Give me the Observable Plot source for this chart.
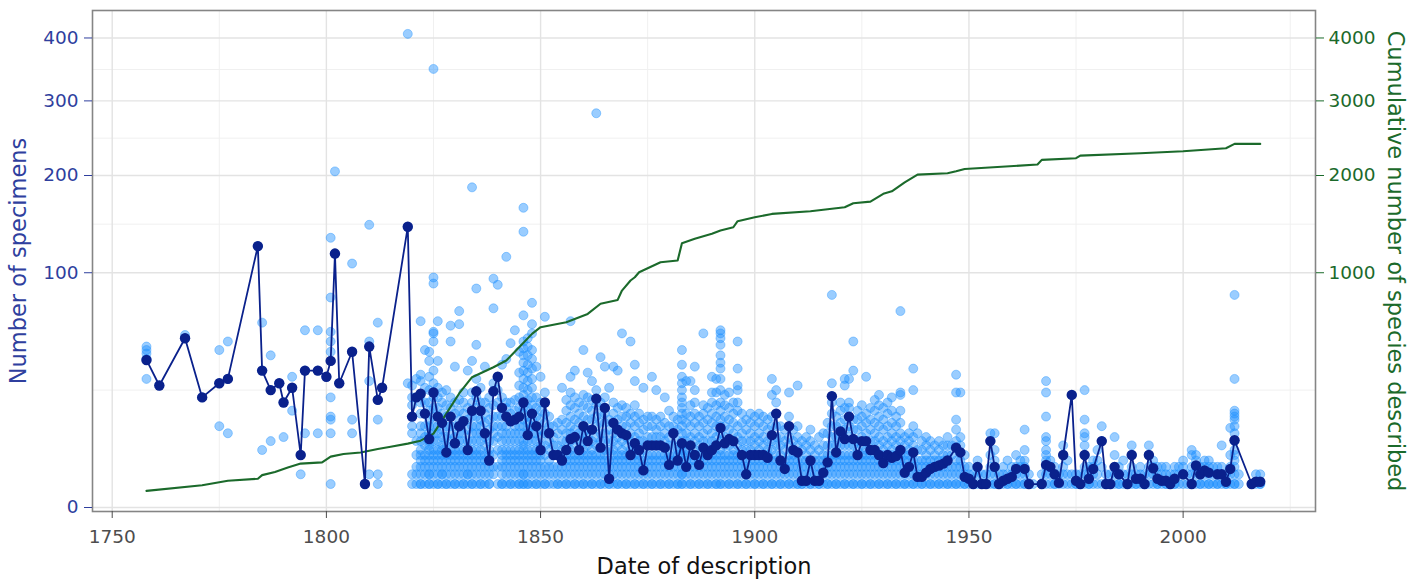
<!DOCTYPE html>
<html>
<head>
<meta charset="utf-8">
<script src="https://cdn.jsdelivr.net/npm/d3@7"></script>
<script src="https://cdn.jsdelivr.net/npm/@observablehq/plot@0.6"></script>
<style>
  html, body { margin: 0; padding: 0; background: #ffffff; }
  svg { display: block; }
</style>
</head>
<body>
<div id="chart"></div>
<script>
// ---- tick values ----
const xTicks = [1750, 1800, 1850, 1900, 1950, 2000];
const xMinorTicks = [1775, 1825, 1875, 1925, 1975, 2025];
const yTicks = [0, 100, 200, 300, 400];
const yMinorTicks = [25, 145.7, 247.5, 348.2];
const rightTicks = [1000, 2000, 3000, 4000];

// ---- specimens per species, grouped by year of description ----
const specimensByYear = [
  [1758, [30, 40, 43, 45, 47]],
  [1761, [27]],
  [1767, [52, 54]],
  [1771, [22]],
  [1775, [12, 28, 45]],
  [1777, [10, 30, 50]],
  [1784, [124]],
  [1785, [6, 34, 62]],
  [1787, [8, 25, 42]],
  [1789, [28]],
  [1790, [9, 20]],
  [1792, [17, 26, 31]],
  [1794, [2, 5]],
  [1795, [10, 34, 57]],
  [1798, [10, 34, 57]],
  [1800, [31]],
  [1801, [1, 10, 14, 15, 22, 39, 44, 50, 56, 80, 132]],
  [1802, [117, 205]],
  [1803, [28]],
  [1806, [10, 14, 44, 108]],
  [1809, [1]],
  [1810, [2, 29, 47, 50, 145]],
  [1812, [1, 2, 14, 21, 62]],
  [1813, [26]],
  [1819, [28, 143, 407]],
  [1820, [1, 2, 10, 12, 15, 19, 22, 27]],
  [1821, [1, 2, 3, 5, 8, 22, 30]],
  [1822, [1, 1, 2, 3, 4, 5, 6, 8, 10, 12, 16, 20, 23, 29, 32, 63]],
  [1823, [1, 2, 3, 4, 5, 7, 9, 12, 16, 20, 26, 45]],
  [1824, [1, 1, 2, 2, 3, 4, 5, 6, 7, 8, 9, 10, 12, 14, 17, 20, 25, 31, 39, 44]],
  [1825, [1, 2, 3, 4, 5, 6, 8, 10, 12, 15, 18, 22, 24, 28, 34, 50, 55, 56, 91, 96, 349]],
  [1826, [1, 1, 2, 3, 4, 5, 6, 8, 10, 12, 15, 18, 22, 26, 39, 63]],
  [1827, [1, 2, 2, 3, 4, 5, 6, 7, 9, 11, 13, 16, 20, 24]],
  [1828, [1, 1, 2, 3, 4, 5, 5.5, 7, 9, 12, 15, 19, 25]],
  [1829, [1, 2, 3, 4, 5, 6, 8, 10, 12, 15, 18, 22, 50, 60]],
  [1830, [1, 1, 2, 3, 4, 5, 6, 7.5, 9, 12, 16, 20, 36]],
  [1831, [1, 2, 3, 4, 5, 6, 8, 10, 12, 14, 17, 21, 61, 70]],
  [1832, [1, 1, 2, 3, 4, 5, 6, 8, 10, 13.5, 16, 20, 24]],
  [1833, [1, 2, 2, 3, 4, 5, 6, 8, 11, 14, 18, 34]],
  [1834, [1, 1, 2, 3, 4, 5, 6, 8, 10, 12, 15, 17, 20, 24, 39, 186]],
  [1835, [1, 2, 3, 4, 5, 6, 8, 10, 12, 15, 18, 22, 24.5, 30, 48, 87]],
  [1836, [1, 1, 2, 3, 4, 5, 6, 8, 10, 12, 14, 17, 20, 26]],
  [1837, [1, 2, 3, 4, 5, 7, 9, 10, 13, 16, 20, 36]],
  [1838, [1, 1, 2, 3, 4, 5, 6, 8, 11, 14, 18, 22]],
  [1839, [2, 3, 5, 8, 10, 12, 15, 19, 24.5, 28, 72, 95]],
  [1840, [1, 3, 6, 9, 12, 15, 20, 25, 31, 90]],
  [1841, [1, 1, 2, 3, 4, 5, 6, 8, 10, 12, 15, 18, 22, 37]],
  [1842, [1, 2, 3, 4, 5, 6, 8, 10, 12, 15, 18, 20, 40, 114]],
  [1843, [1, 1, 2, 3, 4, 5, 6, 8, 10, 13.5, 16, 20, 49]],
  [1844, [1, 2, 3, 4, 5, 6, 8, 10, 12, 14, 17, 21, 57]],
  [1845, [1, 1, 2, 3, 4, 5, 6, 8, 10, 12, 15, 18, 22, 27, 33, 44]],
  [1846, [1, 1, 2, 2, 3, 4, 5, 6, 7, 8, 10, 12, 14, 16, 18, 20, 23, 26, 30, 34, 38, 42, 46, 50, 67, 138, 163]],
  [1847, [1, 1, 2, 3, 4, 5, 6, 8, 9.5, 11, 13, 15, 18, 21, 25, 29, 33, 37, 42, 47, 52]],
  [1848, [1, 2, 3, 4, 5, 6, 8, 10, 12, 14, 16, 19, 22, 26, 30, 35, 40, 45, 55, 61, 76]],
  [1849, [1, 1, 2, 3, 4, 5, 6, 8, 10, 12, 15, 18, 22, 36]],
  [1850, [1, 2, 3, 4, 5, 6, 7, 9, 11, 14, 17, 20, 31]],
  [1851, [1, 1, 2, 3, 5, 7, 10, 13, 16, 20, 24, 66]],
  [1852, [1, 2, 3, 4, 6, 8, 10, 12, 15]],
  [1853, [1, 2, 3, 5, 7, 9, 12]],
  [1854, [1, 1, 2, 3, 5, 7, 10, 13]],
  [1855, [1, 2, 3, 4, 6, 8, 11, 14, 26]],
  [1856, [1, 1, 2, 3, 4, 5, 6, 8, 10, 13, 17, 21]],
  [1857, [1, 2, 3, 4, 5, 6, 8, 10, 12, 15, 19, 24, 31, 63]],
  [1858, [1, 1, 2, 3, 4, 5, 7, 9, 11, 14, 18, 22, 34]],
  [1859, [1, 2, 3, 4, 5, 6, 8, 10, 13, 16, 20]],
  [1860, [1, 1, 2, 3, 4, 5, 6, 8, 10, 12, 15, 19, 23, 45]],
  [1861, [1, 2, 3, 4, 5, 7, 9, 11, 14, 18, 22, 33]],
  [1862, [1, 1, 2, 3, 4, 5, 6, 8, 11, 14, 17, 21, 29]],
  [1863, [1, 2, 3, 4, 5, 7, 9, 12, 15, 19, 21.5, 25, 282]],
  [1864, [1, 1, 2, 3, 4, 5, 6.5, 8, 10, 13, 16, 20, 41]],
  [1865, [1, 2, 3, 4, 5, 6, 8, 10, 13, 16, 18, 22, 36]],
  [1866, [1, 1, 2, 3, 4, 6, 8, 11, 14, 26]],
  [1867, [1, 2, 3, 4, 5, 6, 8, 10, 13, 16, 20, 36]],
  [1868, [1, 1, 2, 3, 4, 5, 7, 9, 11, 14, 18, 34]],
  [1869, [1, 2, 3, 4, 5, 6, 8, 10, 12, 15, 19, 55]],
  [1870, [1, 1, 2, 3, 4, 5, 7, 9, 12, 15, 18]],
  [1871, [1, 2, 3, 4, 5, 6, 8, 10, 13, 16, 50]],
  [1872, [1, 1, 2, 3, 4, 5, 6, 7.5, 9, 12, 15, 19, 29, 37]],
  [1873, [1, 2, 3, 4, 5, 6, 8, 10, 13, 16]],
  [1874, [1, 1, 2, 3, 4, 6, 8, 11, 14, 26]],
  [1875, [1, 2, 3, 4, 5, 7, 9, 12, 15]],
  [1876, [1, 1, 2, 3, 4, 5, 7, 9, 12, 15, 31]],
  [1877, [1, 2, 3, 4, 5, 7, 9, 11, 14, 25]],
  [1878, [1, 1, 2, 3, 4, 5, 7, 9, 12, 15]],
  [1879, [1, 2, 3, 4, 5, 6.5, 8, 10, 13, 22]],
  [1880, [1, 1, 2, 3, 4, 5, 7, 9, 12, 17]],
  [1881, [1, 2, 3, 4, 5, 7, 10, 12, 15]],
  [1882, [1, 1, 2, 3, 4, 5, 6, 8, 11, 14]],
  [1883, [1, 1, 2, 2, 3, 4, 5, 6, 7, 8, 10, 12, 14, 16, 18, 20, 22, 25, 28, 31, 37, 45]],
  [1884, [1, 2, 3, 4, 5, 6, 8, 10, 13, 16, 29]],
  [1885, [1, 1, 2, 3, 4, 5, 7, 9, 12, 15, 19, 29]],
  [1886, [1, 2, 3, 4, 5, 6, 8, 10, 13, 16, 20, 25, 36]],
  [1887, [1, 1, 2, 3, 4, 5, 7, 9, 12, 15]],
  [1888, [1, 2, 3, 4, 5, 6.5, 8, 10, 13, 16, 19, 55]],
  [1889, [1, 1, 2, 3, 4, 5, 6, 8, 11, 14, 18]],
  [1890, [1, 2, 3, 4, 5, 6, 8, 10, 13, 16, 20, 24, 31]],
  [1891, [1, 1, 2, 3, 4, 5, 7, 9, 12, 15, 19, 24, 30]],
  [1892, [1, 1, 2, 3, 4, 5, 6, 8, 10, 12, 14, 17, 20, 25, 30, 35, 38, 42, 48, 52, 55, 57]],
  [1893, [1, 2, 3, 4, 5, 7, 9, 12, 15, 19, 23]],
  [1894, [1, 1, 2, 3, 4, 5, 7, 8.5, 11, 14, 18, 24]],
  [1895, [1, 2, 3, 4, 5, 6, 8, 10, 13, 16, 20]],
  [1896, [1, 1, 2, 3, 4, 5, 7, 9, 12, 17, 20, 25, 27, 35, 50]],
  [1897, [1, 2, 3, 4, 5, 6, 8, 10, 13, 16]],
  [1898, [1, 1, 2, 3, 4, 6, 8, 11, 14]],
  [1899, [1, 2, 3, 4, 5, 6, 8, 10, 13, 16]],
  [1900, [1, 1, 2, 3, 4, 5, 7, 9, 12, 15]],
  [1901, [1, 2, 3, 4, 5, 6, 8, 10, 13, 16]],
  [1902, [1, 1, 2, 3, 4, 5, 7, 9, 12, 15]],
  [1903, [1, 2, 3, 4, 5, 6, 8, 11, 14]],
  [1904, [1, 1, 2, 3, 4, 6, 8, 9.5, 12, 15, 23, 30]],
  [1905, [1, 2, 3, 4, 5, 7, 9, 12, 16, 20, 25]],
  [1906, [1, 1, 2, 3, 4, 5, 7, 9, 12]],
  [1907, [1, 2, 3, 4, 6, 8, 11]],
  [1908, [1, 1, 2, 3, 4, 5, 7, 9, 12, 15, 24]],
  [1909, [1, 2, 3, 4, 5, 6, 8, 11]],
  [1910, [1, 1, 2, 3, 4, 5.5, 7, 9, 12, 27]],
  [1911, [1, 1, 2, 3, 4, 6, 8]],
  [1912, [1, 2, 3, 4, 5, 7, 9]],
  [1913, [1, 1, 2, 3, 4, 6, 8, 11]],
  [1914, [1, 2, 3, 4, 5, 7]],
  [1915, [1, 1, 2, 3, 4, 6, 9]],
  [1916, [1, 2, 3, 4, 5, 7, 10]],
  [1917, [1, 1, 2, 3, 4, 5, 7, 10, 13]],
  [1918, [1, 2, 3, 4, 5, 7, 9, 12, 16, 20, 22.5, 28, 82]],
  [1919, [1, 1, 2, 3, 4, 5, 7, 9, 12, 15]],
  [1920, [1, 2, 3, 4, 5, 7, 9, 10.5, 13, 17, 20]],
  [1921, [1, 1, 2, 3, 4, 5, 7, 8.5, 11, 14, 18, 27, 30]],
  [1922, [1, 2, 3, 4, 5, 7, 9, 12, 15, 18, 20, 30]],
  [1923, [1, 1, 2, 3, 4, 5, 7, 8.5, 11, 14, 34, 50]],
  [1924, [1, 2, 3, 4, 5, 6, 8, 11, 14, 17]],
  [1925, [1, 1, 2, 3, 4, 5, 7, 9, 12, 15, 19]],
  [1926, [1, 2, 3, 4, 5, 6, 8, 10, 13, 16, 31]],
  [1927, [1, 1, 2, 3, 4, 5, 6, 8, 11, 14, 18]],
  [1928, [1, 2, 3, 4, 5, 6, 8, 10, 13, 17, 21]],
  [1929, [1, 1, 2, 3, 4, 5, 7, 9, 12, 15, 19, 23]],
  [1930, [1, 2, 3, 4, 5, 6, 8, 11, 14, 18]],
  [1931, [1, 1, 2, 3, 4, 5, 7, 9, 12, 16, 20]],
  [1932, [1, 2, 3, 4, 5, 6, 8, 10, 13, 17, 22]],
  [1933, [1, 1, 2, 3, 4, 5, 7, 9, 12, 15]],
  [1934, [1, 2, 3, 4, 5, 6, 8, 10, 13, 17, 23, 24, 70]],
  [1935, [1, 1, 2, 3, 4, 5, 7, 9]],
  [1936, [1, 2, 3, 4, 5, 6, 8, 10]],
  [1937, [1, 1, 2, 3, 4, 5.5, 7, 9, 12, 25, 35]],
  [1938, [1, 2, 3, 4, 6, 10]],
  [1939, [1, 1, 2, 3, 4, 6, 8]],
  [1940, [1, 2, 3, 4, 5, 7, 9]],
  [1941, [1, 1, 2, 3, 4, 6, 8]],
  [1942, [1, 2, 3, 4, 5, 7]],
  [1943, [1, 1, 2, 3, 4, 6, 8]],
  [1944, [1, 2, 3, 4, 5, 7]],
  [1945, [1, 1, 2, 3, 4, 5, 7, 9]],
  [1946, [1, 2, 3, 5, 7]],
  [1947, [1, 1, 2, 3, 4, 6.5, 8, 11, 14, 24, 32]],
  [1948, [1, 2, 3, 4, 5.5, 7, 9, 24]],
  [1949, [1, 1, 2, 3, 5]],
  [1950, [1, 2, 3]],
  [1951, [1, 1, 2]],
  [1952, [1, 2, 3, 4]],
  [1953, [1, 1, 2]],
  [1954, [1, 1, 2]],
  [1955, [1, 2, 3, 5, 8, 10]],
  [1956, [1, 1, 2, 3, 4, 6, 10]],
  [1957, [1, 1, 2]],
  [1958, [1, 2, 3]],
  [1959, [1, 1, 2, 4]],
  [1960, [1, 2, 3]],
  [1961, [1, 1, 2, 3, 5]],
  [1962, [1, 2, 3, 4]],
  [1963, [1, 1, 2, 3, 4, 6, 11]],
  [1964, [1, 2]],
  [1965, [1]],
  [1967, [1, 1, 2]],
  [1968, [1, 2, 3, 4, 5, 6, 8, 9, 15, 24, 29]],
  [1969, [1, 2, 3, 4]],
  [1970, [1, 1, 2, 3]],
  [1971, [1, 2]],
  [1972, [1, 2, 3, 5, 7]],
  [1973, [1, 2, 4]],
  [1974, [1, 2, 23]],
  [1975, [1, 1, 2]],
  [1976, [1, 2]],
  [1977, [1, 2, 3, 5, 7, 9, 10, 14, 25]],
  [1978, [1, 1, 2, 3]],
  [1979, [1, 2, 3, 4]],
  [1980, [1, 2, 4, 6]],
  [1981, [1, 3, 8, 12]],
  [1982, [1, 1, 2]],
  [1983, [1, 2]],
  [1984, [1, 2, 3, 5, 9]],
  [1985, [1, 1, 2, 3]],
  [1986, [1, 2, 4]],
  [1987, [1, 1, 2]],
  [1988, [1, 2, 3, 5, 7]],
  [1989, [1, 1, 2]],
  [1990, [1, 2, 3]],
  [1991, [1, 1, 2]],
  [1992, [1, 2, 3, 5, 7]],
  [1993, [1, 2, 3, 4]],
  [1994, [1, 1, 2, 3]],
  [1995, [1, 2, 3]],
  [1996, [1, 1, 2, 3]],
  [1997, [1, 2]],
  [1998, [1, 1, 2, 3]],
  [1999, [1, 2, 3]],
  [2000, [1, 2, 3, 4]],
  [2001, [1, 2]],
  [2002, [1, 1, 2, 3, 5, 6]],
  [2003, [1, 2, 3, 4, 5]],
  [2004, [1, 1, 2, 3]],
  [2005, [1, 2, 3, 4]],
  [2006, [1, 1, 2, 3, 4]],
  [2007, [1, 2, 3]],
  [2008, [1, 1, 2, 3]],
  [2009, [1, 2, 3, 7]],
  [2010, [1, 1, 2]],
  [2011, [1, 2, 3, 5, 11.5]],
  [2012, [1, 1, 2, 3, 4, 5, 6, 8, 10, 12, 14, 15, 16, 17, 30, 82]],
  [2013, [1, 2]],
  [2016, [1]],
  [2017, [1, 2]],
  [2018, [1, 1, 2]]
];

// ---- median number of specimens per year ----
const medianYears = [
  1758, 1761, 1767, 1771, 1775, 1777, 1784, 1785, 1787, 1789,
  1790, 1792, 1794, 1795, 1798, 1800, 1801, 1802, 1803, 1806,
  1809, 1810, 1812, 1813, 1819, 1820, 1821, 1822, 1823, 1824,
  1825, 1826, 1827, 1828, 1829, 1830, 1831, 1832, 1833, 1834,
  1835, 1836, 1837, 1838, 1839, 1840, 1841, 1842, 1843, 1844,
  1845, 1846, 1847, 1848, 1849, 1850, 1851, 1852, 1853, 1854,
  1855, 1856, 1857, 1858, 1859, 1860, 1861, 1862, 1863, 1864,
  1865, 1866, 1867, 1868, 1869, 1870, 1871, 1872, 1873, 1874,
  1875, 1876, 1877, 1878, 1879, 1880, 1881, 1882, 1883, 1884,
  1885, 1886, 1887, 1888, 1889, 1890, 1891, 1892, 1893, 1894,
  1895, 1897, 1898, 1899, 1900, 1901, 1902, 1903, 1904, 1905,
  1906, 1907, 1908, 1909, 1910, 1911, 1912, 1913, 1914, 1915,
  1916, 1917, 1918, 1919, 1920, 1921, 1922, 1923, 1924, 1925,
  1926, 1927, 1928, 1929, 1930, 1931, 1932, 1933, 1934, 1935,
  1936, 1937, 1938, 1939, 1940, 1941, 1942, 1943, 1944, 1945,
  1947, 1948, 1949, 1950, 1951, 1952, 1953, 1954, 1955, 1956,
  1957, 1958, 1959, 1960, 1961, 1963, 1964, 1967, 1968, 1969,
  1970, 1971, 1972, 1974, 1975, 1976, 1977, 1978, 1979, 1981,
  1982, 1983, 1984, 1985, 1987, 1988, 1989, 1990, 1991, 1992,
  1993, 1994, 1995, 1996, 1997, 1998, 2000, 2002, 2003, 2004,
  2005, 2006, 2008, 2009, 2010, 2011, 2012, 2016, 2017, 2018
];
const medianValues = [
  39.5, 27, 52, 22, 28, 30, 124, 34, 25, 28,
  20, 26, 5, 34, 34, 31, 39, 117, 28, 44,
  1, 47, 21, 26, 143, 15, 22, 23.5, 16, 8.5,
  24, 15, 13, 5.5, 15, 7.5, 12, 13.5, 6, 17,
  24.5, 17, 10, 4, 24.5, 31, 18, 15, 13.5, 14,
  15, 20, 9.5, 16, 12, 6, 20, 10, 5, 5,
  4, 6, 8.5, 9, 6, 12, 8, 11, 21.5, 6.5,
  18, 1.5, 13, 11, 10, 9.5, 5, 7.5, 6, 2.5,
  7, 7, 7, 7, 6.5, 3.3, 10, 4, 7.5, 3,
  7, 5, 3.3, 6.5, 5, 6, 7, 11.5, 7.5, 8.5,
  8, 5, 2, 5, 5, 5, 5, 4.5, 9.5, 16,
  4, 2.7, 12, 6, 5.5, 1.3, 1.3, 4, 1.3, 1.3,
  2.2, 3.7, 22.5, 5.5, 10.5, 8.5, 15, 8.5, 5, 8,
  8, 6, 6, 5, 3.6, 5, 4.5, 4.8, 6, 2.2,
  3, 5.5, 1.7, 1.7, 2.2, 2.7, 3, 3.2, 3.5, 4,
  6.5, 5.5, 1.7, 1.5, 1, 3, 1, 1, 8, 3,
  1, 1.3, 1.5, 1.7, 2.7, 2.7, 1, 1, 3.3, 3,
  2, 1.1, 5, 23, 1.3, 1, 5, 1.5, 2.7, 8,
  1, 1, 3, 2, 1, 5, 1.5, 1.5, 1, 5,
  2.8, 1.5, 1.3, 1.3, 1, 1.5, 2, 1, 3.2, 2,
  2.5, 2.2, 2, 2, 1.2, 2.7, 8.2, 1, 1.2, 1.2
];

// ---- cumulative number of species described (right axis) ----
const cumYears = [
  1758, 1771, 1777, 1784, 1785, 1788, 1791, 1794, 1799, 1801,
  1804, 1808, 1812, 1815, 1819, 1822, 1825, 1828, 1831, 1834,
  1839, 1842, 1845, 1848, 1850, 1856, 1861, 1864, 1868, 1869,
  1871, 1872, 1873, 1878, 1882, 1883, 1886, 1890, 1892, 1895,
  1896, 1900, 1904, 1913, 1921, 1923, 1927, 1930, 1932, 1935,
  1938, 1945, 1947, 1949, 1966, 1967, 1975, 1976, 1990, 2000,
  2010, 2012, 2018
];
const cumSpecies = [
  5, 9, 13, 15, 19, 23, 29, 35, 37, 47,
  52, 55, 62, 67, 74, 81, 99, 160, 236, 308,
  357, 392, 466, 547, 590, 623, 680, 753, 782, 854,
  935, 962, 1004, 1092, 1107, 1267, 1310, 1359, 1392, 1425,
  1487, 1528, 1564, 1593, 1636, 1680, 1698, 1785, 1814, 1919,
  2011, 2027, 2051, 2080, 2134, 2193, 2214, 2247, 2277, 2303,
  2342, 2399, 2399
];

// ---- tables built from the arrays ----
const specimens = specimensByYear.flatMap(([year, counts]) => counts.map(n => ({year, n})));
const medians = medianYears.map((year, i) => ({year, n: medianValues[i]}));
const cumulative = cumYears.map((year, i) => ({year, species: cumSpecies[i]}));

const BLUE_TEXT = "#2f3f9e";
const GREEN = "#1b6a2b";
const DARK = "#0a218c";
const LIGHT = "#1E90FF";
const FONT = "DejaVu Sans, Liberation Sans, sans-serif";

const chart = Plot.plot({
  width: 1417,
  height: 585,
  marginLeft: 92,
  marginRight: 102,
  marginTop: 10,
  marginBottom: 74,
  style: {background: "#ffffff", fontFamily: FONT, overflow: "visible"},
  x: {domain: [1745.4, 2030.9], axis: null},
  y: {type: "sqrt", domain: [-0.029, 448.2], axis: null},
  marks: [
    Plot.gridX(xMinorTicks, {stroke: "#f0f0f0", strokeOpacity: 1, strokeWidth: 1}),
    Plot.gridY(yMinorTicks, {stroke: "#f0f0f0", strokeOpacity: 1, strokeWidth: 1}),
    Plot.gridX(xTicks, {stroke: "#e3e3e3", strokeOpacity: 1, strokeWidth: 1.4}),
    Plot.gridY(yTicks, {stroke: "#e3e3e3", strokeOpacity: 1, strokeWidth: 1.4}),
    Plot.dot(specimens, {
      x: "year", y: "n", r: 4.5,
      fill: LIGHT, fillOpacity: 0.45,
      stroke: LIGHT, strokeOpacity: 0.4, strokeWidth: 1
    }),
    Plot.line(cumulative, {x: "year", y: d => d.species / 10, stroke: GREEN, strokeWidth: 2.1}),
    Plot.line(medians, {x: "year", y: "n", stroke: DARK, strokeWidth: 1.8}),
    Plot.dot(medians, {x: "year", y: "n", r: 5.2, fill: DARK, stroke: "none"}),
    Plot.frame({stroke: "#858585", strokeWidth: 1.6}),
    Plot.axisX(xTicks, {
      anchor: "bottom", tickSize: 7, tickPadding: 11, tickFormat: d => String(d),
      color: "#4d4d4d", fontSize: 18.5, label: null
    }),
    Plot.axisY(yTicks, {
      anchor: "left", tickSize: 8, tickPadding: 6, tickFormat: d => String(d),
      color: BLUE_TEXT, fontSize: 18.5, label: null
    }),
    Plot.axisY(rightTicks.map(d => d / 10), {
      anchor: "right", tickSize: 8, tickPadding: 5, tickFormat: d => String(Math.round(d * 10)),
      color: GREEN, fontSize: 18.5, label: null
    }),
    Plot.text(["Date of description"], {
      frameAnchor: "bottom", dy: 55, lineAnchor: "middle", textAnchor: "middle",
      fill: "#111111", fontSize: 22.5
    }),
    Plot.text(["Number of specimens"], {
      frameAnchor: "left", dx: -74, rotate: -90, lineAnchor: "middle", textAnchor: "middle",
      fill: BLUE_TEXT, fontSize: 22.5
    }),
    Plot.text(["Cumulative number of species described"], {
      frameAnchor: "right", dx: 80, rotate: 90, lineAnchor: "middle", textAnchor: "middle",
      fill: GREEN, fontSize: 22.5
    })
  ]
});

document.getElementById("chart").appendChild(chart);
</script>
</body>
</html>
